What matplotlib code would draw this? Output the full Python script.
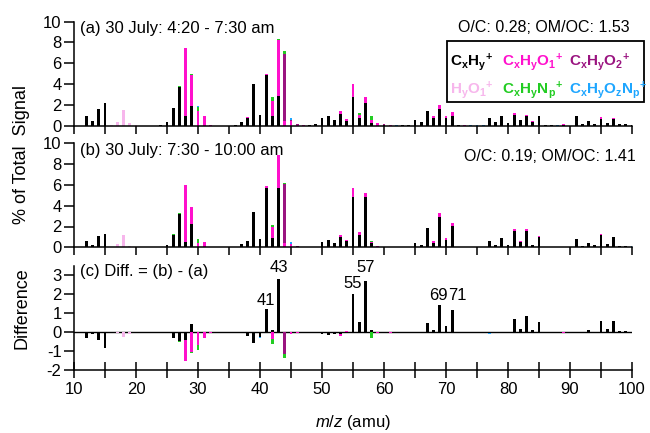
import numpy as np
import matplotlib
matplotlib.use('Agg')
import matplotlib.pyplot as plt
from matplotlib.patches import Rectangle
from matplotlib.ticker import MultipleLocator

plt.rcParams['font.family'] = 'Liberation Sans'
plt.rcParams['mathtext.fontset'] = 'custom'
plt.rcParams['mathtext.rm'] = 'Liberation Sans'
plt.rcParams['mathtext.it'] = 'Liberation Sans:italic'
plt.rcParams['mathtext.bf'] = 'Liberation Sans:bold'
plt.rcParams['axes.unicode_minus'] = False

# ion families (stacked bottom -> top in this order)
family_colors = ['black', '#ff10cc', '#9a1480', '#f7b6ec', '#22cc22', '#1ea6ff']
family_labels = [r'$\mathbf{C_xH_y{}^{+}}$', r'$\mathbf{C_xH_yO_1{}^{+}}$', r'$\mathbf{C_xH_yO_2{}^{+}}$',
                 r'$\mathbf{H_yO_1{}^{+}}$', r'$\mathbf{C_xH_yN_p{}^{+}}$', r'$\mathbf{C_xH_yO_zN_p{}^{+}}$']

# (a) 30 July 4:20 - 7:30 am, % of total signal per m/z
a_cxhy = {12: 0.93, 13: 0.45, 14: 1.6, 15: 2.15, 24: 0.08, 25: 0.33, 26: 1.66, 27: 3.69, 28: 0.93,
          29: 1.83, 36: 0.05, 37: 0.34, 38: 0.75, 39: 3.96, 40: 1.0, 41: 4.84, 42: 0.87, 43: 2.85,
          48: 0.05, 49: 0.13, 50: 0.69, 51: 0.91, 52: 0.53, 53: 1.1, 54: 0.43, 55: 2.77, 56: 0.75,
          57: 2.2, 58: 0.2, 60: 0.05, 63: 0.05, 64: 0.05, 65: 0.55, 66: 0.3, 67: 1.4, 68: 0.7,
          69: 1.6, 70: 0.7, 71: 0.93, 72: 0.05, 77: 0.74, 78: 0.35, 79: 0.96, 80: 0.2, 81: 1.03,
          82: 0.5, 83: 0.87, 84: 0.35, 85: 0.87, 86: 0.05, 87: 0.05, 89: 0.05, 91: 0.87, 92: 0.16,
          93: 0.45, 94: 0.16, 95: 0.6, 96: 0.22, 97: 0.64, 98: 0.12, 99: 0.12, 100: 0.05}
a_cxhyo1 = {28: 6.51, 29: 3.04, 30: 1.35, 31: 0.87, 32: 0.05, 38: 0.1, 39: 0.05, 41: 0.12,
            42: 1.44, 43: 5.39, 44: 0.47, 45: 0.45, 46: 0.05, 47: 0.03, 53: 0.33, 54: 0.19,
            55: 1.22, 56: 0.29, 57: 0.5, 58: 0.33, 59: 0.2, 61: 0.05, 68: 0.17, 69: 0.4, 70: 0.17,
            71: 0.32, 73: 0.05, 81: 0.17, 83: 0.16, 84: 0.05, 85: 0.05, 89: 0.05, 95: 0.2,
            97: 0.05, 98: 0.05, 99: 0.05}
a_cxhyo2 = {44: 6.45, 45: 0.1, 46: 0.08, 60: 0.05}
a_hyo1 = {16: 0.05, 17: 0.35, 18: 1.51, 19: 0.26, 20: 0.03}
a_cxhynp = {27: 0.15, 29: 0.1, 30: 0.41, 42: 0.45, 43: 0.1, 44: 0.25, 56: 0.13, 58: 0.38}
a_cxhyoznp = {30: 0.07, 45: 0.15, 46: 0.03, 62: 0.03, 74: 0.03, 75: 0.03, 76: 0.03, 86: 0.03,
              88: 0.03, 100: 0.03}

# (b) 30 July 7:30 - 10:00 am
b_cxhy = {12: 0.64, 13: 0.22, 14: 1.09, 15: 1.28, 24: 0.05, 25: 0.22, 26: 1.22, 27: 3.2, 28: 0.48,
          29: 2.24, 36: 0.05, 37: 0.32, 38: 0.58, 39: 3.43, 40: 0.77, 41: 5.7, 42: 0.93, 43: 5.74,
          48: 0.05, 49: 0.05, 50: 0.51, 51: 0.7, 52: 0.38, 53: 1.0, 54: 0.57, 55: 4.8, 56: 1.19,
          57: 4.87, 58: 0.38, 60: 0.05, 63: 0.05, 64: 0.05, 65: 0.45, 66: 0.22, 67: 1.83, 68: 0.45,
          69: 2.88, 70: 0.7, 71: 2.05, 72: 0.05, 77: 0.64, 78: 0.22, 79: 0.93, 80: 0.22, 81: 1.6,
          82: 0.48, 83: 1.57, 84: 0.18, 85: 0.96, 86: 0.05, 87: 0.05, 89: 0.05, 91: 0.77, 92: 0.13,
          93: 0.45, 94: 0.22, 95: 1.15, 96: 0.32, 97: 1.03, 98: 0.1, 99: 0.14, 100: 0.05}
b_cxhyo1 = {28: 5.52, 29: 1.61, 30: 0.38, 31: 0.51, 32: 0.05, 38: 0.05, 40: 0.06, 41: 0.2,
            42: 1.06, 43: 3.14, 44: 0.45, 45: 0.3, 46: 0.05, 53: 0.16, 54: 0.17, 55: 0.87,
            56: 0.25, 57: 0.39, 58: 0.16, 59: 0.13, 61: 0.03, 68: 0.19, 69: 0.39, 70: 0.17,
            71: 0.25, 81: 0.16, 82: 0.16, 83: 0.16, 84: 0.04, 85: 0.13, 95: 0.13, 98: 0.06}
b_cxhyo2 = {44: 5.61, 45: 0.05, 46: 0.05}
b_hyo1 = {16: 0.03, 17: 0.3, 18: 1.19, 19: 0.13, 20: 0.02}
b_cxhynp = {26: 0.06, 27: 0.08, 29: 0.05, 30: 0.39, 41: 0.04, 42: 0.13, 44: 0.1, 56: 0.05, 58: 0.1}
b_cxhyoznp = {30: 0.03, 45: 0.18, 62: 0.03, 74: 0.04, 75: 0.04, 76: 0.03, 88: 0.03, 100: 0.03}

# (c) difference (b) - (a)
c_cxhy = {12: -0.3, 13: -0.1, 14: -0.4, 15: -0.85, 25: -0.05, 26: -0.3, 27: -0.45, 28: -0.4,
          29: 0.4, 37: -0.05, 38: -0.2, 39: -0.6, 40: -0.25, 41: 1.2, 42: 0.1, 43: 2.8, 49: -0.05,
          50: -0.1, 51: -0.15, 52: -0.12, 53: -0.08, 55: 2.0, 56: 0.55, 57: 2.7, 58: 0.1,
          65: -0.05, 67: 0.48, 68: 0.12, 69: 1.43, 70: 0.32, 71: 1.16, 77: -0.05, 81: 0.68,
          82: 0.18, 83: 0.84, 84: 0.12, 85: 0.55, 93: 0.09, 95: 0.59, 96: 0.14, 97: 0.59,
          98: 0.05, 99: 0.05}
c_cxhyo1 = {28: -1.1, 29: -1.07, 30: -0.7, 31: -0.3, 32: -0.05, 42: -0.35, 45: -0.1, 46: -0.05,
            53: -0.12, 54: 0.05, 59: -0.05, 61: -0.03, 89: -0.05}
c_cxhyo2 = {44: -1.15}
c_hyo1 = {17: -0.05, 18: -0.25, 19: -0.08}
c_cxhynp = {27: -0.1, 29: -0.05, 30: -0.23, 42: -0.27, 44: -0.22, 58: -0.3}
c_cxhyoznp = {40: -0.05, 45: -0.03, 77: -0.03}

panel_a = [a_cxhy, a_cxhyo1, a_cxhyo2, a_hyo1, a_cxhynp, a_cxhyoznp]
panel_b = [b_cxhy, b_cxhyo1, b_cxhyo2, b_hyo1, b_cxhynp, b_cxhyoznp]
panel_c = [c_cxhy, c_cxhyo1, c_cxhyo2, c_hyo1, c_cxhynp, c_cxhyoznp]

# labelled peaks in the difference panel (label x, label y)
peak_mz = [41, 43, 55, 57, 69, 71]
peak_label_x = [41, 43, 55, 57, 68.8, 71.9]
peak_label_y = [1.67, 3.39, 2.55, 3.42, 1.9, 1.9]

mz = np.arange(10, 101)
W, H = 650, 433
BAR_W = 0.45
FS = 12


def to_array(d):
    out = np.zeros(len(mz))
    for k, v in d.items():
        out[k - 10] = v
    return out


def draw_stack(ax, families):
    pos = np.zeros(len(mz))
    neg = np.zeros(len(mz))
    for d, col in zip(families, family_colors):
        v = to_array(d)
        up = np.where(v > 0, v, 0)
        dn = np.where(v < 0, v, 0)
        m = up > 0
        if m.any():
            ax.bar(mz[m], up[m], BAR_W, bottom=pos[m], color=col, linewidth=0)
        m = dn < 0
        if m.any():
            ax.bar(mz[m], dn[m], BAR_W, bottom=neg[m], color=col, linewidth=0)
        pos += up
        neg += dn


def style_axis(ax, bottom_labels=False):
    for s in ['top', 'right']:
        ax.spines[s].set_visible(False)
    for s in ['left', 'bottom']:
        ax.spines[s].set_linewidth(1.1)
    ax.set_xlim(10, 100)
    ax.xaxis.set_major_locator(MultipleLocator(10))
    ax.xaxis.set_minor_locator(MultipleLocator(5))
    ax.tick_params(axis='y', direction='out', length=7, width=1.1, labelsize=FS, pad=2)
    ax.tick_params(axis='x', which='both', direction='out', length=6, width=1.1,
                   labelbottom=bottom_labels, labelsize=FS, pad=3)


def fig_px(x, y):
    # pixel position (from top-left) to figure fraction
    return x / W, 1 - y / H


fig = plt.figure(figsize=(6.5, 4.33), dpi=100)

left = 74 / W
width = (632 - 74) / W
ax_a = fig.add_axes([left, 1 - 125.5 / H, width, 104 / H])
ax_b = fig.add_axes([left, 1 - 247.3 / H, width, 104 / H])
ax_c = fig.add_axes([left, 1 - 370 / H, width, 104.5 / H])

draw_stack(ax_a, panel_a)
ax_a.set_ylim(0, 10)
ax_a.set_yticks([0, 2, 4, 6, 8, 10])
style_axis(ax_a)

draw_stack(ax_b, panel_b)
ax_b.set_ylim(0, 10)
ax_b.set_yticks([0, 2, 4, 6, 8, 10])
style_axis(ax_b)

ax_c.axhline(0, color='black', linewidth=1.0, zorder=0)
draw_stack(ax_c, panel_c)
ax_c.set_ylim(-2, 3.5)
ax_c.set_yticks([-2, -1, 0, 1, 2, 3])
style_axis(ax_c, bottom_labels=True)
ax_c.tick_params(axis='x', which='both', direction='inout', length=11)
for m, x, y in zip(peak_mz, peak_label_x, peak_label_y):
    ax_c.text(x, y, str(m), ha='center', va='center', fontsize=FS)

# panel titles and elemental ratios
fig.text(*fig_px(80.5, 32.5), '(a) 30 July: 4:20 - 7:30 am', fontsize=FS, va='baseline')
fig.text(*fig_px(79.5, 155), '(b) 30 July: 7:30 - 10:00 am', fontsize=FS, va='baseline')
fig.text(*fig_px(80.5, 276), '(c) Diff. = (b) - (a)', fontsize=FS, va='baseline')
fig.text(*fig_px(630, 31.7), 'O/C: 0.28; OM/OC: 1.53', fontsize=11.5, va='baseline', ha='right')
fig.text(*fig_px(636, 160.7), 'O/C: 0.19; OM/OC: 1.41', fontsize=11.5, va='baseline', ha='right')

# axis labels
fig.text(*fig_px(22, 155), '% of Total  Signal', fontsize=13, rotation=90, ha='center', va='center')
fig.text(*fig_px(22, 308), 'Difference', fontsize=13, rotation=90, ha='center', va='center')
fig.text(*fig_px(353, 426.5), r'$m/z$ (amu)', fontsize=FS, ha='center', va='baseline')

# colour key for the ion families
x0, y0 = fig_px(447, 102)
x1, y1 = fig_px(644, 41)
fig.patches.append(Rectangle((x0, y0), x1 - x0, y1 - y0, transform=fig.transFigure,
                             fill=False, edgecolor='black', linewidth=1.3))
key_x = [450, 501.5, 569]
key_y = [65.7, 94]
for i, (lab, col) in enumerate(zip(family_labels, family_colors)):
    fig.text(*fig_px(key_x[i % 3], key_y[i // 3]), lab, color=col, fontsize=11, va='baseline')

fig.savefig('out.png', dpi=100)
